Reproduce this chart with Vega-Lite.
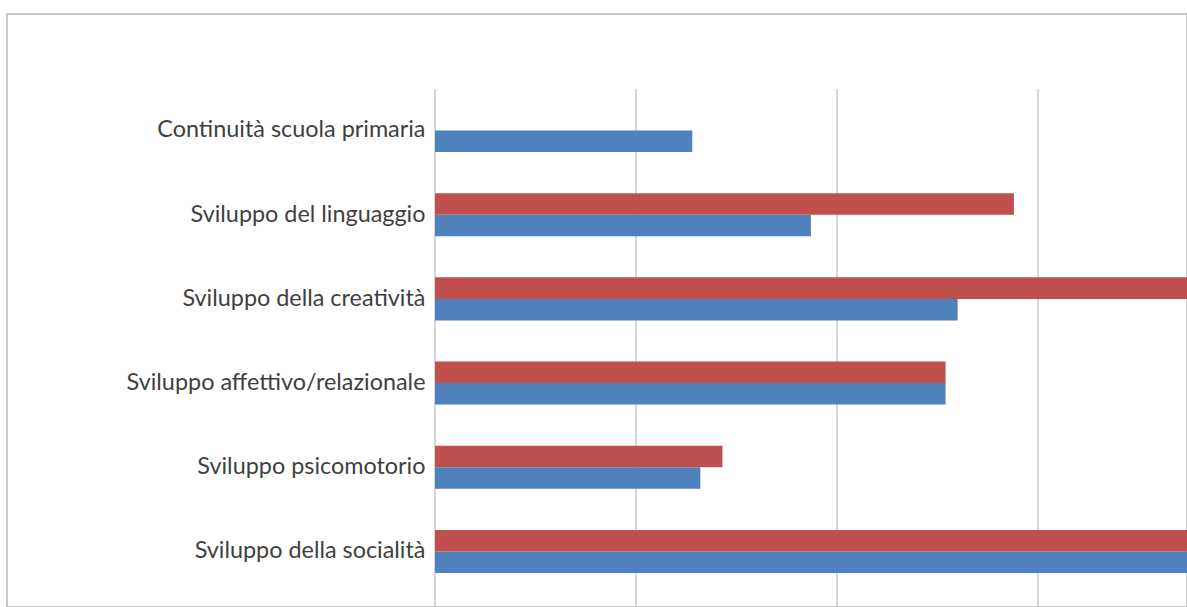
{
  "$schema": "https://vega.github.io/schema/vega-lite/v6.json",
  "width": 1180,
  "height": 593,
  "autosize": "none",
  "padding": {"left": 7, "top": 14, "right": 0, "bottom": 0},
  "background": "white",
  "config": {"view": {"stroke": "#b5b5b5", "strokeWidth": 1.5}, "font": "Lato"},
  "datasets": {
    "griglia": [{"v": 0}, {"v": 10}, {"v": 20}, {"v": 30}],
    "dati": [
      {"categoria": "Continuità scuola primaria", "serie": "Serie 1", "valore": 12.8},
      {"categoria": "Sviluppo del linguaggio", "serie": "Serie 1", "valore": 18.7},
      {"categoria": "Sviluppo del linguaggio", "serie": "Serie 2", "valore": 28.8},
      {"categoria": "Sviluppo della creatività", "serie": "Serie 1", "valore": 26.0},
      {"categoria": "Sviluppo della creatività", "serie": "Serie 2", "valore": 40.0},
      {"categoria": "Sviluppo affettivo/relazionale", "serie": "Serie 1", "valore": 25.4},
      {"categoria": "Sviluppo affettivo/relazionale", "serie": "Serie 2", "valore": 25.4},
      {"categoria": "Sviluppo psicomotorio", "serie": "Serie 1", "valore": 13.2},
      {"categoria": "Sviluppo psicomotorio", "serie": "Serie 2", "valore": 14.3},
      {"categoria": "Sviluppo della socialità", "serie": "Serie 1", "valore": 42.0},
      {"categoria": "Sviluppo della socialità", "serie": "Serie 2", "valore": 45.0}
    ]
  },
  "layer": [
    {
      "data": {"name": "griglia"},
      "mark": {"type": "rule", "color": "#c0c0c0", "strokeWidth": 1.3},
      "encoding": {
        "x": {
          "field": "v",
          "type": "quantitative",
          "scale": {"domain": [0, 37.41], "range": [428, 1180], "nice": false, "zero": true},
          "axis": null
        },
        "y": {"datum": 0, "type": "quantitative", "scale": {"domain": [0, 1], "range": [75, 593], "nice": false, "zero": false}, "axis": null},
        "y2": {"datum": 1}
      }
    },
    {
      "data": {"name": "dati"},
      "mark": {"type": "bar", "clip": true},
      "encoding": {
        "y": {
          "field": "categoria",
          "type": "nominal",
          "sort": ["Continuità scuola primaria", "Sviluppo del linguaggio", "Sviluppo della creatività", "Sviluppo affettivo/relazionale", "Sviluppo psicomotorio", "Sviluppo della socialità"],
          "scale": {"range": [75, 593], "paddingInner": 0.489, "paddingOuter": 0.3206, "align": 0.37},
          "axis": {"title": null, "orient": "left", "offset": -418, "domain": false, "ticks": false, "tickSize": 0, "labelPadding": 0, "labelFont": "Lato", "labelFontSize": 23.4, "labelColor": "#3f3f3f", "labelLimit": 0, "grid": false}
        },
        "yOffset": {
          "field": "serie",
          "type": "nominal",
          "scale": {"domain": ["Serie 2", "Serie 1"], "paddingInner": 0, "paddingOuter": 0}
        },
        "x": {
          "field": "valore",
          "type": "quantitative",
          "scale": {"domain": [0, 37.41], "range": [428, 1180], "nice": false, "zero": true},
          "axis": null
        },
        "color": {
          "field": "serie",
          "type": "nominal",
          "scale": {"domain": ["Serie 1", "Serie 2"], "range": ["#4F81BD", "#C0504D"]},
          "legend": null
        }
      }
    }
  ],
  "resolve": {"scale": {"y": "independent"}}
}
